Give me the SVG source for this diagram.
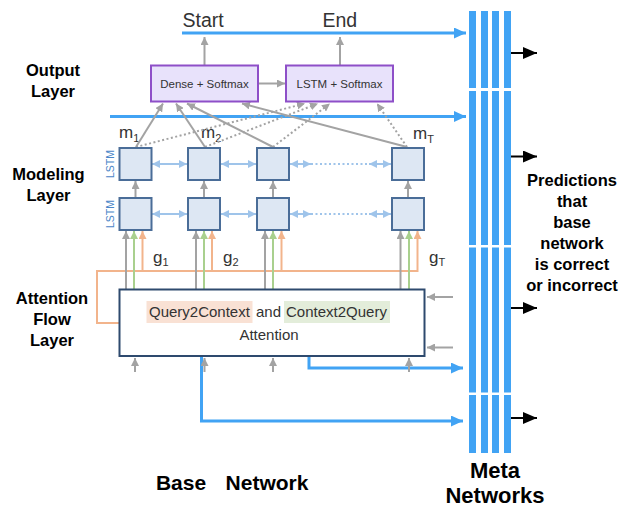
<svg xmlns="http://www.w3.org/2000/svg" width="632" height="508" viewBox="0 0 632 508">
<style>
.lbl{font-family:"Liberation Sans",Arial,sans-serif;font-weight:bold;fill:#000;text-anchor:middle}
.txt{font-family:"Liberation Sans",Arial,sans-serif;fill:#333}
.ob{fill:#e8e2fb;stroke:#8e4fc8;stroke-width:2}
.lb{fill:#dde7f3;stroke:#4a6d98;stroke-width:2}
.gr{stroke:#a3a3a3;stroke-width:2;fill:none}
.dot{stroke:#a3a3a3;stroke-width:2;fill:none;stroke-dasharray:2 2.5}
.bl{stroke:#41a3f4;stroke-width:3;fill:none}
.lbl2{stroke:#9fc4ea;stroke-width:2;fill:none}
.or{stroke:#f2b48c;stroke-width:2;fill:none}
.gn{stroke:#a9d08e;stroke-width:2;fill:none}
.bar{fill:#41a3f4}
.ls{font-family:"Liberation Sans",Arial,sans-serif;font-size:10.5px;fill:#4a86c8;text-anchor:middle}
</style>
<defs>
<marker id="ga" markerUnits="userSpaceOnUse" markerWidth="9" markerHeight="8" refX="8" refY="4" orient="auto"><path d="M0,0 L8,4 L0,8 z" fill="#a3a3a3"/></marker>
<marker id="oa" markerUnits="userSpaceOnUse" markerWidth="9" markerHeight="8" refX="8" refY="4" orient="auto"><path d="M0,0 L8,4 L0,8 z" fill="#f2b48c"/></marker>
<marker id="na" markerUnits="userSpaceOnUse" markerWidth="9" markerHeight="8" refX="8" refY="4" orient="auto"><path d="M0,0 L8,4 L0,8 z" fill="#a9d08e"/></marker>
<marker id="la" markerUnits="userSpaceOnUse" markerWidth="9" markerHeight="8" refX="8" refY="4" orient="auto-start-reverse"><path d="M0,0 L8,4 L0,8 z" fill="#9fc4ea"/></marker>
<marker id="ba" markerUnits="userSpaceOnUse" markerWidth="13" markerHeight="12" refX="12" refY="5.5" orient="auto"><path d="M0,0 L12,5.5 L0,11 z" fill="#41a3f4"/></marker>
<marker id="ka" markerUnits="userSpaceOnUse" markerWidth="15" markerHeight="12" refX="14" refY="6" orient="auto"><path d="M0,0 L14,6 L0,12 z" fill="#000"/></marker>
</defs>
<rect width="632" height="508" fill="#fff"/>

<g id="labels">
<text class="lbl" x="53" y="76" font-size="16.5">Output</text>
<text class="lbl" x="53" y="97" font-size="16.5">Layer</text>
<text class="lbl" x="48.5" y="180" font-size="16.5">Modeling</text>
<text class="lbl" x="48.5" y="201" font-size="16.5">Layer</text>
<text class="lbl" x="52" y="304" font-size="16.5">Attention</text>
<text class="lbl" x="52" y="325" font-size="16.5">Flow</text>
<text class="lbl" x="52" y="346" font-size="16.5">Layer</text>
<text class="lbl" x="181" y="490" font-size="21">Base</text>
<text class="lbl" x="267" y="490" font-size="21">Network</text>
<text class="lbl" x="495" y="478" font-size="22">Meta</text>
<text class="lbl" x="495" y="503" font-size="22">Networks</text>
<text class="lbl" x="572" y="186" font-size="16.5">Predictions</text>
<text class="lbl" x="572" y="207" font-size="16.5">that</text>
<text class="lbl" x="572" y="228" font-size="16.5">base</text>
<text class="lbl" x="572" y="249" font-size="16.5">network</text>
<text class="lbl" x="572" y="270" font-size="16.5">is correct</text>
<text class="lbl" x="572" y="291" font-size="16.5">or incorrect</text>
<text class="txt" x="182.5" y="27" font-size="19.5">Start</text>
<text class="txt" x="322.5" y="27" font-size="19.5">End</text>
<text class="txt" x="119" y="138" font-size="17">m<tspan font-size="11" dy="4">1</tspan></text>
<text class="txt" x="201" y="138" font-size="17">m<tspan font-size="11" dy="4">2</tspan></text>
<text class="txt" x="413" y="139" font-size="17">m<tspan font-size="11" dy="4">T</tspan></text>
<text class="txt" x="153" y="263" font-size="17">g<tspan font-size="11" dy="3">1</tspan></text>
<text class="txt" x="223" y="263" font-size="17">g<tspan font-size="11" dy="3">2</tspan></text>
<text class="txt" x="429" y="263" font-size="17">g<tspan font-size="11" dy="3">T</tspan></text>
<text class="ls" transform="translate(113.5,164) rotate(-90)">LSTM</text>
<text class="ls" transform="translate(113.5,214) rotate(-90)">LSTM</text>
</g>

<g id="connectors">
<line class="bl" x1="182" y1="33" x2="466" y2="33" marker-end="url(#ba)"/>
<line class="bl" x1="110" y1="116.5" x2="466" y2="116.5" marker-end="url(#ba)"/>
<path class="bl" d="M201.5,323 V421 H463" marker-end="url(#ba)"/>
<path class="bl" d="M309,323 V368 H463" marker-end="url(#ba)"/>
<line class="gr" x1="204.5" y1="65" x2="204.5" y2="37" marker-end="url(#ga)"/>
<line class="gr" x1="340" y1="65" x2="340" y2="37" marker-end="url(#ga)"/>
<line class="gr" x1="258" y1="83.5" x2="285" y2="83.5" marker-end="url(#ga)"/>
<line class="gr" x1="136" y1="147" x2="163" y2="103.5" marker-end="url(#ga)"/>
<line class="gr" x1="205" y1="147" x2="176" y2="103.5" marker-end="url(#ga)"/>
<line class="gr" x1="273" y1="147" x2="187" y2="103.5" marker-end="url(#ga)"/>
<line class="gr" x1="407" y1="147" x2="242" y2="103.5" marker-end="url(#ga)"/>
<line class="dot" x1="136" y1="147" x2="305" y2="103.5" marker-end="url(#ga)"/>
<line class="dot" x1="205" y1="147" x2="318" y2="103.5" marker-end="url(#ga)"/>
<line class="dot" x1="273" y1="147" x2="330" y2="103.5" marker-end="url(#ga)"/>
<line class="dot" x1="407" y1="147" x2="377" y2="103.5" marker-end="url(#ga)"/>
<line class="lbl2" x1="152" y1="164" x2="187" y2="164" marker-start="url(#la)" marker-end="url(#la)"/>
<line class="lbl2" x1="221" y1="164" x2="256" y2="164" marker-start="url(#la)" marker-end="url(#la)"/>
<line class="lbl2" x1="290" y1="164" x2="311" y2="164" marker-start="url(#la)" marker-end="url(#la)"/>
<line class="lbl2" x1="311" y1="164" x2="369" y2="164" stroke-dasharray="2 2.5"/>
<line class="lbl2" x1="369" y1="164" x2="391" y2="164" marker-start="url(#la)" marker-end="url(#la)"/>
<line class="lbl2" x1="152" y1="214" x2="187" y2="214" marker-start="url(#la)" marker-end="url(#la)"/>
<line class="lbl2" x1="221" y1="214" x2="256" y2="214" marker-start="url(#la)" marker-end="url(#la)"/>
<line class="lbl2" x1="290" y1="214" x2="311" y2="214" marker-start="url(#la)" marker-end="url(#la)"/>
<line class="lbl2" x1="311" y1="214" x2="369" y2="214" stroke-dasharray="2 2.5"/>
<line class="lbl2" x1="369" y1="214" x2="391" y2="214" marker-start="url(#la)" marker-end="url(#la)"/>
<line class="gr" x1="135.5" y1="198" x2="135.5" y2="181" marker-end="url(#ga)"/>
<line class="gr" x1="204" y1="198" x2="204" y2="181" marker-end="url(#ga)"/>
<line class="gr" x1="273" y1="198" x2="273" y2="181" marker-end="url(#ga)"/>
<line class="gr" x1="408" y1="198" x2="408" y2="181" marker-end="url(#ga)"/>
<path class="or" d="M119,323 H97 V271 H418"/>
<line class="or" x1="142.5" y1="271" x2="142.5" y2="231" marker-end="url(#oa)"/>
<line class="or" x1="212" y1="271" x2="212" y2="231" marker-end="url(#oa)"/>
<line class="or" x1="281.5" y1="271" x2="281.5" y2="231" marker-end="url(#oa)"/>
<line class="or" x1="417.5" y1="272" x2="417.5" y2="231" marker-end="url(#oa)"/>
<line class="gr" x1="126" y1="289" x2="126" y2="231" marker-end="url(#ga)"/>
<line class="gr" x1="196" y1="289" x2="196" y2="231" marker-end="url(#ga)"/>
<line class="gr" x1="265" y1="289" x2="265" y2="231" marker-end="url(#ga)"/>
<line class="gr" x1="400.5" y1="289" x2="400.5" y2="231" marker-end="url(#ga)"/>
<line class="gn" x1="134" y1="289" x2="134" y2="231" marker-end="url(#na)"/>
<line class="gn" x1="204" y1="289" x2="204" y2="231" marker-end="url(#na)"/>
<line class="gn" x1="273" y1="289" x2="273" y2="231" marker-end="url(#na)"/>
<line class="gn" x1="409" y1="289" x2="409" y2="231" marker-end="url(#na)"/>
<line class="gr" x1="453" y1="297" x2="427" y2="297" marker-end="url(#ga)"/>
<line class="gr" x1="453" y1="347.5" x2="427" y2="347.5" marker-end="url(#ga)"/>
<line class="gr" x1="135" y1="372" x2="135" y2="358" marker-end="url(#ga)"/>
<line class="gr" x1="204.5" y1="372" x2="204.5" y2="358" marker-end="url(#ga)"/>
<line class="gr" x1="273" y1="372" x2="273" y2="358" marker-end="url(#ga)"/>
<line class="gr" x1="409" y1="372" x2="409" y2="358" marker-end="url(#ga)"/>
<line stroke="#000" stroke-width="2" x1="506" y1="53" x2="537" y2="53" marker-end="url(#ka)"/>
<line stroke="#000" stroke-width="2" x1="506" y1="156.5" x2="537" y2="156.5" marker-end="url(#ka)"/>
<line stroke="#000" stroke-width="2" x1="506" y1="308" x2="537" y2="308" marker-end="url(#ka)"/>
<line stroke="#000" stroke-width="2" x1="506" y1="418" x2="537" y2="418" marker-end="url(#ka)"/>
</g>

<g id="dense-softmax">
<rect class="ob" x="151" y="65.5" width="107" height="36"/>
<text class="txt" x="204.5" y="87.5" font-size="11.5" text-anchor="middle">Dense + Softmax</text>
</g>
<g id="lstm-softmax">
<rect class="ob" x="286" y="65.5" width="107" height="36"/>
<text class="txt" x="339.5" y="87.5" font-size="11.5" text-anchor="middle">LSTM + Softmax</text>
</g>

<g id="lstm-top-1"><rect class="lb" x="119.5" y="148" width="32" height="32"/></g>
<g id="lstm-top-2"><rect class="lb" x="188" y="148" width="32" height="32"/></g>
<g id="lstm-top-3"><rect class="lb" x="257" y="148" width="32" height="32"/></g>
<g id="lstm-top-T"><rect class="lb" x="392" y="148" width="32" height="32"/></g>
<g id="lstm-bot-1"><rect class="lb" x="119.5" y="198" width="32" height="32"/></g>
<g id="lstm-bot-2"><rect class="lb" x="188" y="198" width="32" height="32"/></g>
<g id="lstm-bot-3"><rect class="lb" x="257" y="198" width="32" height="32"/></g>
<g id="lstm-bot-T"><rect class="lb" x="392" y="198" width="32" height="32"/></g>

<g id="attention">
<rect x="119.5" y="289.5" width="305" height="66.5" fill="#fff" stroke="#2e4a6e" stroke-width="2"/>
<rect x="146.5" y="301" width="106" height="22" fill="#f9e1d4"/>
<rect x="284" y="301" width="106" height="22" fill="#e3edda"/>
<text class="txt" x="149" y="317" font-size="15">Query2Context</text>
<text class="txt" x="256" y="317" font-size="15">and</text>
<text class="txt" x="286" y="317" font-size="15">Context2Query</text>
<text class="txt" x="269" y="340" font-size="15" text-anchor="middle">Attention</text>
</g>

<g id="meta-networks">
<rect class="bar" x="469" y="11" width="7" height="77"/>
<rect class="bar" x="481" y="11" width="7" height="77"/>
<rect class="bar" x="492" y="11" width="7" height="77"/>
<rect class="bar" x="504" y="11" width="7" height="77"/>
<rect class="bar" x="469" y="91" width="7" height="154"/>
<rect class="bar" x="481" y="91" width="7" height="154"/>
<rect class="bar" x="492" y="91" width="7" height="154"/>
<rect class="bar" x="504" y="91" width="7" height="154"/>
<rect class="bar" x="469" y="247.5" width="7" height="145"/>
<rect class="bar" x="481" y="247.5" width="7" height="145"/>
<rect class="bar" x="492" y="247.5" width="7" height="145"/>
<rect class="bar" x="504" y="247.5" width="7" height="145"/>
<rect class="bar" x="469" y="395" width="7" height="58"/>
<rect class="bar" x="481" y="395" width="7" height="58"/>
<rect class="bar" x="492" y="395" width="7" height="58"/>
<rect class="bar" x="504" y="395" width="7" height="58"/>
</g>
</svg>
